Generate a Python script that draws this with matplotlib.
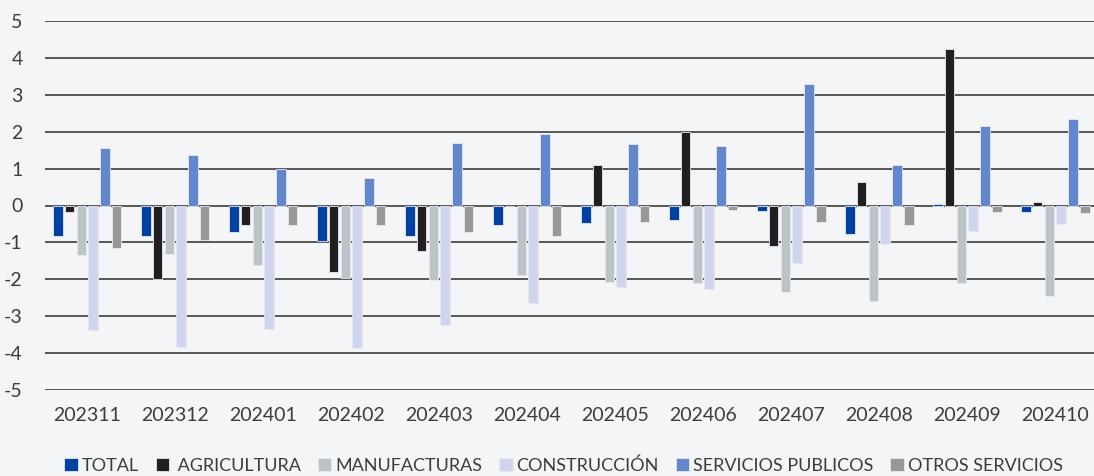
import numpy as np
import matplotlib.pyplot as plt

plt.rcParams['font.family'] = ['Lato', 'DejaVu Sans']
plt.rcParams['axes.unicode_minus'] = False

months = ['202311', '202312', '202401', '202402', '202403', '202404',
          '202405', '202406', '202407', '202408', '202409', '202410']

total = [-0.84, -0.84, -0.72, -0.97, -0.82, -0.52, -0.48, -0.38, -0.16, -0.76, 0.03, -0.18]
agricultura = [-0.18, -2.0, -0.54, -1.81, -1.22, 0.0, 1.1, 1.98, -1.09, 0.63, 4.23, 0.09]
manufacturas = [-1.33, -1.32, -1.62, -1.97, -2.01, -1.87, -2.06, -2.09, -2.34, -2.58, -2.1, -2.46]
construccion = [-3.37, -3.83, -3.35, -3.87, -3.25, -2.63, -2.2, -2.27, -1.57, -1.05, -0.68, -0.49]
serv_publicos = [1.55, 1.36, 0.98, 0.75, 1.69, 1.95, 1.66, 1.6, 3.28, 1.1, 2.15, 2.35]
otros_serv = [-1.15, -0.93, -0.52, -0.52, -0.73, -0.83, -0.46, -0.12, -0.46, -0.52, -0.17, -0.21]

series = [
    ('TOTAL', total, '#0041a3'),
    (' AGRICULTURA', agricultura, '#231f20'),
    ('MANUFACTURAS', manufacturas, '#bcc3c8'),
    ('CONSTRUCCIÓN', construccion, '#d0d5ee'),
    ('SERVICIOS PUBLICOS', serv_publicos, '#6287cc'),
    ('OTROS SERVICIOS', otros_serv, '#969798'),
]

bg = '#f3f5f7'
txt = '#3c3c3c'
fig = plt.figure(figsize=(10.94, 4.76), dpi=100, facecolor=bg)
ax = fig.add_axes([45 / 1094, 1 - 390 / 476, 1 - 45 / 1094, 369 / 476])
ax.set_facecolor(bg)

x = np.arange(len(months))
step = 0.134
width = 0.108
for i, (name, vals, col) in enumerate(series):
    ax.bar(x + (i - 2.5) * step, vals, width=width, color=col,
           edgecolor='#e6e9f2', linewidth=0.6, label=name, zorder=3)

ax.set_ylim(-5, 5)
ax.set_xlim(-0.48, 11.44)
ax.set_yticks(range(-5, 6))
for v in range(-5, 6):
    ax.axhline(v, color='#4a4a4a', linewidth=1.3, zorder=1)
for s in ax.spines.values():
    s.set_visible(False)
ax.tick_params(axis='both', length=0, colors=txt, labelsize=14)
ax.tick_params(axis='y', pad=16)
ax.tick_params(axis='x', pad=12)
ax.set_xticks(x)
ax.set_xticklabels(months)

fig.legend(loc='center', bbox_to_anchor=(0.515, 0.022), ncol=6, frameon=False,
           fontsize=13, handlelength=0.75, handleheight=0.75,
           handletextpad=0.2, columnspacing=0.95, labelcolor=txt)

fig.savefig('out.png', dpi=100, facecolor=bg)
